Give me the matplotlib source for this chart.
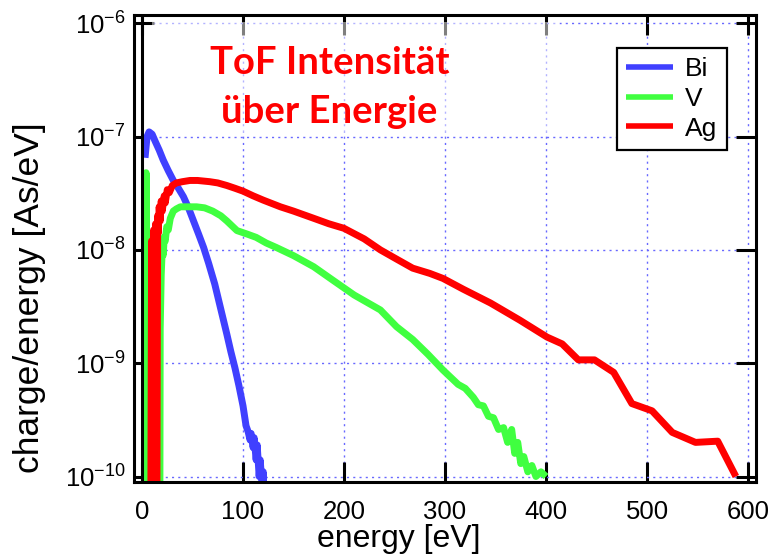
"""ToF intensity over energy for Bi, V and Ag (log scale)."""

import matplotlib
matplotlib.use("Agg")
import matplotlib.pyplot as plt
from matplotlib.patches import Rectangle
from matplotlib.ticker import LogLocator, NullLocator, MultipleLocator

# energy [eV] and charge/energy [As/eV]
bi_energy = [3, 5, 7, 10, 13, 17, 21, 26, 31, 36, 41, 46, 51, 56, 61, 66, 72,
             78, 84, 88, 92, 96, 100, 103, 105, 107, 108, 110, 111, 113, 114,
             116, 117, 119, 120, 121, 122]
bi_value = [6.5e-8, 1.0e-7, 1.1e-7, 1.05e-7, 9.1e-8, 7.6e-8, 6.2e-8, 5.0e-8,
            4.1e-8, 3.5e-8, 2.95e-8, 2.35e-8, 1.8e-8, 1.38e-8, 1.05e-8, 7.6e-9,
            5.0e-9, 3.0e-9, 1.8e-9, 1.26e-9, 9.1e-10, 6.3e-10, 4.2e-10, 2.8e-10,
            2.5e-10, 2.1e-10, 2.4e-10, 1.8e-10, 2.2e-10, 1.4e-10, 1.9e-10,
            1.0e-10, 1.4e-10, 8e-11, 1.1e-10, 6e-11, 1e-11]

v_energy = [3.5, 4, 5, 17.5, 18, 19, 20, 21, 22, 23, 24.5, 26, 28, 31, 34, 38,
            45, 54, 62, 70, 78, 84, 90, 94, 104, 113, 123, 133, 150, 170, 189,
            210, 236, 252, 268, 283, 298, 313, 320, 328, 333, 338, 343, 348,
            353, 358, 362, 366, 369, 372, 375, 378, 382, 386, 390, 395, 400]
v_value = [1e-11, 4.8e-8, 1e-11, 1e-11, 2e-9, 6e-9, 1.0e-8, 9e-9, 1.3e-8,
           1.2e-8, 1.6e-8, 1.5e-8, 1.9e-8, 2.2e-8, 2.3e-8, 2.4e-8, 2.4e-8,
           2.4e-8, 2.35e-8, 2.2e-8, 2.0e-8, 1.8e-8, 1.6e-8, 1.48e-8, 1.38e-8,
           1.29e-8, 1.15e-8, 1.05e-8, 8.9e-9, 7.1e-9, 5.4e-9, 4.0e-9, 2.95e-9,
           2.1e-9, 1.62e-9, 1.2e-9, 8.7e-10, 6.5e-10, 6.0e-10, 5.0e-10, 4.3e-10,
           4.2e-10, 3.4e-10, 3.3e-10, 2.6e-10, 2.7e-10, 2.0e-10, 2.6e-10,
           1.6e-10, 2.0e-10, 1.3e-10, 1.5e-10, 1.1e-10, 1.25e-10, 1.0e-10,
           1.1e-10, 1.0e-10]

ag_energy = [8.5, 9.5, 10.5, 11.5, 12.5, 13.5, 14.5, 15.5, 16, 17, 18, 19, 20,
             22, 23, 25, 27, 30, 34, 40, 47.5, 55, 67, 75, 84, 92, 100, 110,
             120, 137, 150, 170, 185, 200, 220, 236, 252, 268, 285, 298, 318,
             345, 374, 401, 416, 432, 448, 467, 485, 505, 525, 548, 570, 588]
ag_value = [1e-11, 1.2e-8, 1e-11, 1.5e-8, 1e-11, 1.7e-8, 1e-11, 2.0e-8,
            1.4e-8, 2.4e-8, 1.8e-8, 2.7e-8, 2.2e-8, 3.0e-8, 2.6e-8, 3.4e-8,
            3.2e-8, 3.7e-8, 3.9e-8, 4.0e-8, 4.1e-8, 4.1e-8, 4.0e-8, 3.9e-8,
            3.7e-8, 3.5e-8, 3.3e-8, 3.0e-8, 2.75e-8, 2.4e-8, 2.2e-8, 1.9e-8,
            1.7e-8, 1.55e-8, 1.25e-8, 1.0e-8, 8.3e-9, 6.9e-9, 6.2e-9, 5.6e-9,
            4.5e-9, 3.4e-9, 2.4e-9, 1.7e-9, 1.48e-9, 1.07e-9, 1.07e-9, 8.3e-10,
            4.4e-10, 3.8e-10, 2.45e-10, 2.0e-10, 2.05e-10, 1.0e-10]

series = [("Bi", bi_energy, bi_value, "#4040ff"),
          ("V", v_energy, v_value, "#40ff40"),
          ("Ag", ag_energy, ag_value, "#ff0000")]

plt.rcParams["font.family"] = ["Liberation Sans", "DejaVu Sans"]
plt.rcParams["mathtext.default"] = "regular"

fig = plt.figure(figsize=(7.73, 5.58), dpi=100)
ax = fig.add_axes([0.1734, 0.1362, 0.8046, 0.8369])

for name, energy, value, color in series:
    ax.plot(energy, value, color=color, lw=5, label=name,
            solid_joinstyle="round", solid_capstyle="butt")

ax.set_yscale("log")
ax.set_xlim(-7.9, 607.9)
ax.set_ylim(10 ** -10.0485, 10 ** -5.927)
ax.xaxis.set_major_locator(MultipleLocator(100))
ax.yaxis.set_major_locator(LogLocator(base=10, numticks=10))
ax.yaxis.set_minor_locator(NullLocator())

ax.grid(True, color="#6868ff", lw=1.0, ls=(0, (1.5, 3)))
ax.tick_params(which="major", direction="in", length=14.5, width=2.2,
               top=True, right=True, labelsize=18.5, color="black")
ax.tick_params(axis="x", pad=13)
ax.tick_params(axis="y", pad=6)
for spine in ax.spines.values():
    spine.set_linewidth(2.2)

# inner line at zero energy
ax.axvline(0, color="black", lw=2.2, zorder=2.6)

# half transparent box behind the title, as in the slide
ax.add_patch(Rectangle((0.029, 0.749), 0.656, 0.236, transform=ax.transAxes,
                       facecolor="white", alpha=0.5, edgecolor="none",
                       zorder=1.8))
ax.text(0.314, 0.755, "ToF Intensität\nüber Energie",
        transform=ax.transAxes, color="#ff0000", fontsize=27.5,
        fontweight="bold", family=["Lato", "DejaVu Sans"], ha="center",
        va="bottom", linespacing=1.55, zorder=3)

ax.set_xlabel("energy [eV]", fontsize=23)
ax.set_ylabel("charge/energy [As/eV]", fontsize=25.5)
ax.xaxis.set_label_coords(0.426, -0.09)
ax.yaxis.set_label_coords(-0.142, 0.394)

leg = ax.legend(loc="upper right", bbox_to_anchor=(0.953, 0.93),
                fontsize=19, handlelength=1.8, handletextpad=0.45,
                labelspacing=0.22, borderpad=0.35, borderaxespad=0,
                fancybox=False, framealpha=1)
leg.get_frame().set_edgecolor("black")
leg.get_frame().set_linewidth(1.6)
for line in leg.get_lines():
    line.set_linewidth(4)

fig.savefig("out.png", dpi=100)
